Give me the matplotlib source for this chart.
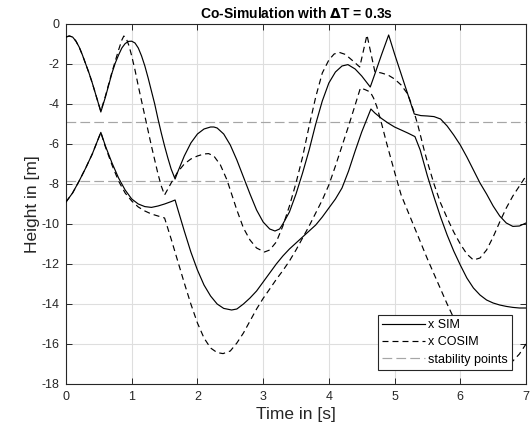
import matplotlib
matplotlib.use("Agg")
import matplotlib.pyplot as plt
from matplotlib.lines import Line2D

plt.rcParams['font.family'] = ['Liberation Sans', 'DejaVu Sans']
plt.rcParams['lines.scale_dashes'] = False

# ---- data ----
t_sim1 = [0, 0.05, 0.1, 0.15, 0.2, 0.25, 0.3, 0.35, 0.4, 0.45, 0.5, 0.53,
          0.6, 0.65, 0.7, 0.75, 0.8, 0.85, 0.9, 0.95, 1.0, 1.05, 1.1,
          1.15, 1.2, 1.25, 1.3, 1.35, 1.4, 1.45, 1.5, 1.55, 1.6, 1.66,
          1.7, 1.8, 1.9, 2.0, 2.1, 2.2, 2.25, 2.3, 2.4, 2.5, 2.6, 2.7, 2.8,
          2.9, 3.0, 3.1, 3.18, 3.25, 3.3, 3.4, 3.5, 3.6, 3.7, 3.8, 3.9, 4.0,
          4.1, 4.2, 4.29, 4.4, 4.5, 4.63, 4.7, 4.8, 4.91, 5.0, 5.1, 5.2, 5.3,
          5.4, 5.5, 5.6, 5.7, 5.8, 5.9, 6.0, 6.1, 6.2, 6.3, 6.4, 6.5, 6.6,
          6.7, 6.8, 6.9, 7.0]
y_sim1 = [-0.65, -0.6, -0.65, -0.85, -1.15, -1.55, -2.0, -2.45, -2.95, -3.5, -4.05, -4.4,
          -3.65, -3.05, -2.45, -1.95, -1.55, -1.2, -0.98, -0.87, -0.86, -0.95, -1.2,
          -1.6, -2.1, -2.7, -3.35, -4.0, -4.75, -5.45, -6.1, -6.7, -7.25, -7.75,
          -7.4, -6.6, -5.95, -5.5, -5.25, -5.15, -5.15, -5.2, -5.5, -6.05, -6.8, -7.65, -8.5,
          -9.3, -9.9, -10.25, -10.35, -10.25, -10.0, -9.4, -8.5, -7.45, -6.3, -5.0, -3.85, -2.95,
          -2.4, -2.1, -2.03, -2.25, -2.6, -3.15, -2.5, -1.55, -0.55, -1.5, -2.5, -3.5, -4.5,
          -4.58, -4.6, -4.63, -4.75, -5.1, -5.55, -6.05, -6.65, -7.3, -7.95, -8.5, -9.1, -9.6,
          -9.95, -10.12, -10.1, -9.95]

t_cosim1 = [0, 0.05, 0.1, 0.15, 0.2, 0.25, 0.3, 0.35, 0.4, 0.45, 0.5, 0.53,
            0.6, 0.65, 0.7, 0.75, 0.8, 0.85, 0.88, 0.92, 0.96, 1.0, 1.05, 1.1,
            1.15, 1.2, 1.25, 1.3, 1.35, 1.4, 1.45, 1.5, 1.55, 1.6, 1.7, 1.8,
            1.9, 2.0, 2.1, 2.17, 2.25, 2.35, 2.45, 2.52, 2.6, 2.7, 2.8, 2.9,
            3.02, 3.1, 3.2, 3.3, 3.4, 3.5, 3.6, 3.7, 3.8, 3.9, 4.0, 4.08, 4.16,
            4.25, 4.35, 4.47, 4.58, 4.7, 4.8, 4.9, 5.0, 5.1, 5.2, 5.25, 5.3,
            5.35, 5.4, 5.45, 5.5, 5.6, 5.7, 5.8, 5.9, 6.0, 6.1, 6.2, 6.3, 6.4,
            6.5, 6.6, 6.7, 6.8, 6.9, 7.0]
y_cosim1 = [-0.65, -0.6, -0.65, -0.85, -1.15, -1.55, -2.0, -2.45, -2.95, -3.5, -4.05, -4.35,
            -3.6, -3.0, -2.4, -1.85, -1.3, -0.8, -0.6, -0.75, -1.1, -1.6, -2.3, -3.1,
            -3.85, -4.6, -5.35, -6.1, -6.8, -7.5, -8.1, -8.55, -8.25, -7.95, -7.4, -7.0,
            -6.75, -6.6, -6.5, -6.48, -6.6, -7.05, -7.8, -8.5, -9.3, -10.2, -10.8, -11.2,
            -11.4, -11.3, -10.9, -10.1, -9.1, -7.95, -6.65, -5.1, -3.65, -2.45, -1.8, -1.5, -1.42,
            -1.52, -1.8, -2.15, -0.55, -2.38, -2.45, -2.55, -2.75, -3.05, -3.5, -3.95, -4.45,
            -5.0, -5.65, -6.3, -6.9, -8.0, -8.95, -9.7, -10.4, -11.0, -11.5, -11.8, -11.7, -11.3,
            -10.65, -9.9, -9.2, -8.6, -8.1, -7.6]

t_sim2 = [0, 0.1, 0.2, 0.3, 0.4, 0.53, 0.6, 0.7, 0.8, 0.9, 1.0, 1.1, 1.2, 1.3,
          1.4, 1.5, 1.6, 1.66, 1.7, 1.8, 1.9, 2.0, 2.1, 2.2, 2.3, 2.4, 2.52,
          2.6, 2.7, 2.8, 2.9, 3.0, 3.1, 3.2, 3.3, 3.4, 3.5, 3.6, 3.7, 3.8,
          3.9, 4.0, 4.1, 4.2, 4.3, 4.4, 4.5, 4.64, 4.7, 4.8, 4.9, 5.0, 5.1,
          5.2, 5.31, 5.39, 5.5, 5.6, 5.7, 5.8, 5.9, 6.0, 6.1, 6.2, 6.3, 6.4,
          6.5, 6.6, 6.7, 6.8, 6.9, 7.0]
y_sim2 = [-8.9, -8.45, -7.85, -7.2, -6.5, -5.42, -6.1, -6.95, -7.7, -8.3, -8.75, -9.0, -9.13, -9.17,
          -9.1, -9.0, -8.88, -8.8, -9.25, -10.35, -11.4, -12.3, -13.05, -13.6, -14.0, -14.22, -14.3,
          -14.25, -14.0, -13.7, -13.35, -12.9, -12.45, -12.0, -11.6, -11.25, -10.95, -10.65, -10.35, -10.05,
          -9.65, -9.2, -8.75, -8.2, -7.35, -6.35, -5.4, -4.25, -4.45, -4.72, -4.95, -5.15, -5.3,
          -5.45, -5.63, -6.3, -7.6, -8.65, -9.65, -10.55, -11.35, -12.05, -12.7, -13.2, -13.55, -13.8,
          -13.95, -14.05, -14.12, -14.17, -14.2, -14.2]

t_cosim2 = [0, 0.1, 0.2, 0.3, 0.4, 0.53, 0.6, 0.7, 0.8, 0.9, 1.0, 1.1, 1.2, 1.3,
            1.4, 1.5, 1.6, 1.7, 1.8, 1.9, 2.0, 2.1, 2.2, 2.3, 2.39, 2.5, 2.6,
            2.7, 2.8, 2.9, 3.0, 3.1, 3.2, 3.3, 3.4, 3.5, 3.6, 3.7, 3.8, 3.9,
            4.0, 4.1, 4.2, 4.3, 4.4, 4.48, 4.55, 4.63, 4.68, 4.73, 4.8, 4.88,
            5.0, 5.1, 5.2, 5.3, 5.4, 5.5, 5.6, 5.7, 5.8, 5.9, 6.0, 6.1, 6.2,
            6.3, 6.4, 6.5, 6.6, 6.7, 6.8, 6.9, 7.0]
y_cosim2 = [-8.9, -8.45, -7.85, -7.2, -6.5, -5.42, -6.15, -7.05, -7.85, -8.45, -8.85, -9.15, -9.35, -9.5,
            -9.6, -9.7, -10.75, -11.85, -12.95, -14.0, -14.95, -15.7, -16.2, -16.43, -16.48, -16.35, -15.95,
            -15.45, -14.85, -14.25, -13.72, -13.25, -12.77, -12.33, -11.85, -11.3, -10.7, -10.1, -9.45, -8.8,
            -8.05, -7.1, -6.1, -5.1, -4.05, -3.2, -3.28, -3.4, -3.7, -4.13, -4.95, -5.97,
            -7.4, -8.55, -9.35, -10.15, -10.95, -11.75, -12.5, -13.25, -14.0, -14.7, -15.35, -15.9, -16.35,
            -16.7, -16.95, -17.1, -17.15, -17.05, -16.85, -16.5, -16.0]

stability_points = [-4.9, -7.87]

x_ticks = [0, 1, 2, 3, 4, 5, 6, 7]
y_ticks = [0, -2, -4, -6, -8, -10, -12, -14, -16, -18]
legend_labels = ['x SIM', 'x COSIM', 'stability points']

# ---- figure ----
fig = plt.figure(figsize=(5.30, 4.38), dpi=100)
ax = fig.add_axes([66/530, 1 - 384/438, 460/530, 360/438])

lw = 0.85
black_dash = (4.3, 2.9)
gray_dash = (7.0, 3.0)
gray = '#a6a6a6'

for yv in stability_points:
    ax.axhline(yv, color=gray, lw=lw, dashes=gray_dash, zorder=2)

ax.plot(t_sim1, y_sim1, color='black', lw=lw, zorder=3)
ax.plot(t_sim2, y_sim2, color='black', lw=lw, zorder=3)
ax.plot(t_cosim1, y_cosim1, color='black', lw=lw, dashes=black_dash, zorder=3)
ax.plot(t_cosim2, y_cosim2, color='black', lw=lw, dashes=black_dash, zorder=3)

ax.set_xlim(0, 7)
ax.set_ylim(-18, 0)
ax.set_xticks(x_ticks)
ax.set_yticks(y_ticks)
ax.set_yticklabels([str(v) if v == 0 else '-%d' % abs(v) for v in y_ticks])
ax.grid(True, color='#dedede', lw=0.8, zorder=0)
ax.set_axisbelow(True)
ax.tick_params(direction='in', length=4, width=0.7, top=True, right=True,
               labelsize=9, colors='#262626', pad=5)
for s in ax.spines.values():
    s.set_color('#262626')
    s.set_linewidth(0.8)

ax.set_xlabel('Time in [s]', fontsize=12.5, color='#262626', labelpad=3)
ax.set_ylabel('Height in [m]', fontsize=12.5, color='#262626', labelpad=1)
ax.set_title('Co-Simulation with $\\mathbf{\\Delta}$T = 0.3s', fontsize=10, fontweight='bold',
             color='black', pad=4)

handles = [Line2D([], [], color='black', lw=lw),
           Line2D([], [], color='black', lw=lw, dashes=black_dash),
           Line2D([], [], color=gray, lw=lw, dashes=gray_dash)]
leg = ax.legend(handles, legend_labels,
                loc='lower right', bbox_to_anchor=(512/530, 1 - 370/438),
                bbox_transform=fig.transFigure, fontsize=9, frameon=True,
                fancybox=False, edgecolor='#262626', framealpha=1,
                handlelength=3.4, handletextpad=0.25, borderpad=0.35,
                labelspacing=0.42, borderaxespad=0)
leg.get_frame().set_linewidth(0.8)

fig.savefig('out.png', dpi=100)
